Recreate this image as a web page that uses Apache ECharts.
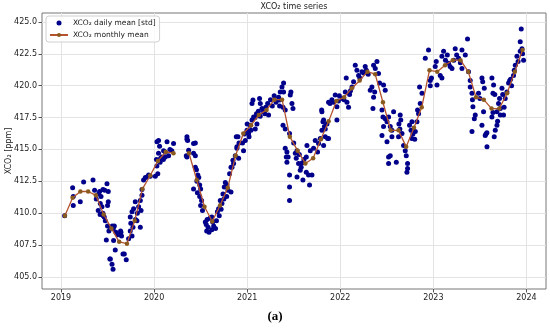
<!DOCTYPE html>
<html><head><meta charset="utf-8">
<script src="https://cdn.jsdelivr.net/npm/echarts@6/dist/echarts.min.js"></script>
<style>html,body{margin:0;padding:0;background:#fff}#c{width:550px;height:330px}</style>
</head><body><div id="c"></div>
<script>
const yearTicks = [2019, 2020, 2021, 2022, 2023, 2024];
const valueTicks = [405, 407.5, 410, 412.5, 415, 417.5, 420, 422.5, 425];
const monthlyYears = [2019, 2020, 2021, 2022, 2023];
const monthly2019 = [409.8,411.2,411.7,411.7,411.4,409.9,408.8,407.75,407.6,409.4,411.9,412.95];
const monthly2020 = [414.1,414.8,414.7,null,414.7,412.6,410.5,409.35,410.6,412.0,414.5,416.25];
const monthly2021 = [416.9,417.7,418.1,418.9,418.9,416.0,414.9,413.9,414.3,415.8,417.2,418.8];
const monthly2022 = [419.1,419.8,420.4,421.1,420.9,418.7,416.5,416.5,415.2,416.7,418.3,421.2];
const monthly2023 = [421.1,421.6,422.0,422.0,421.1,419.1,418.9,418.2,418.2,419.4,421.1,422.8];
const daily = [
[2019.039,409.8],[2019.125,412.0],[2019.132,411.3],[2019.132,410.6],[2019.207,410.9],[2019.243,412.45],[2019.344,412.6],[2019.361,411.8],[2019.379,411.1],[2019.404,411.5],[2019.422,410.75],[2019.440,410.5],[2019.451,411.85],[2019.494,412.3],[2019.508,411.7],[2019.508,410.9],[2019.500,410.6],[2019.454,409.8],[2019.465,409.7],[2019.476,409.4],[2019.487,407.9],[2019.551,409.0],[2019.562,408.8],[2019.573,409.0],[2019.530,406.4],[2019.525,406.4],[2019.548,406.0],[2019.559,405.6],[2019.583,407.1],[2019.565,407.86],[2019.644,408.5],[2019.650,408.2],[2019.666,406.8],[2019.680,406.8],[2019.701,406.35],[2019.726,408.0],
[2019.415,411.7],[2019.43,411.3],[2019.47,411.8],[2019.40,410.2],[2019.45,410.0],[2019.42,409.9],[2019.50,409.0],[2019.515,408.6],[2019.53,408.9],[2019.59,408.5],[2019.61,408.3],[2019.64,408.6],
[2019.744,409.7],[2019.763,410.1],[2019.780,410.35],[2019.798,410.9],[2019.773,408.9],[2019.744,408.6],[2019.763,408.2],[2019.816,409.4],[2019.852,408.9],[2019.834,410.5],[2019.852,411.0],[2019.870,411.4],[2019.870,411.85],[2019.887,412.6],[2019.906,412.8],[2019.924,412.84],[2019.941,413.0],[2019.959,412.9],[2019.80,409.5],[2019.82,410.0],[2019.86,410.2],[2019.75,409.2],
[2020.013,412.9],[2020.031,415.6],[2020.048,415.7],[2020.059,415.25],[2020.102,414.9],[2020.139,415.6],[2020.120,414.8],[2020.156,414.5],[2020.085,414.4],[2020.048,414.7],[2020.209,415.46],[2020.025,414.2],[2020.03,413.7],[2020.04,413.1],[2020.07,414.3],[2020.10,414.2],[2020.12,414.4],[2020.17,415.0],[2020.19,414.9],[2020.065,414.0],
[2020.353,416.0],[2020.360,415.7],[2020.424,415.46],[2020.371,414.94],[2020.443,414.5],[2020.346,414.5],[2020.353,415.8],[2020.443,415.5],[2020.424,414.7],[2020.353,414.4],[2020.443,413.6],
[2020.455,413.4],[2020.47,413.0],[2020.48,412.8],[2020.46,412.5],[2020.49,412.2],[2020.50,411.9],[2020.465,411.6],[2020.49,411.3],[2020.51,411.0],[2020.50,410.6],[2020.424,411.9],[2020.52,410.2],
[2020.55,409.3],[2020.56,409.1],[2020.565,408.6],[2020.58,408.9],[2020.60,409.6],[2020.62,409.7],[2020.64,409.0],[2020.62,408.7],[2020.66,408.8],[2020.59,408.5],[2020.63,409.3],[2020.57,409.5],
[2020.693,410.35],[2020.711,411.0],[2020.729,410.75],[2020.740,411.5],[2020.754,412.05],[2020.765,412.4],[2020.783,412.2],[2020.794,411.8],[2020.811,413.1],[2020.826,413.6],[2020.847,414.15],[2020.872,414.5],[2020.890,415.2],[2020.901,416.0],[2020.912,415.5],[2020.70,409.8],[2020.68,410.1],[2020.72,410.3],[2020.67,409.4],[2020.75,411.1],[2020.78,411.3],
[2020.883,416.0],[2020.890,415.1],[2020.908,414.3],[2020.854,413.9],[2020.837,413.6],[2020.826,411.65],[2020.961,414.9],[2020.980,415.7],[2020.998,416.5],[2021.015,416.25],[2021.033,416.9],[2021.052,417.3],[2021.041,416.5],[2021.069,417.55],[2021.087,416.6],[2021.105,417.0],[2021.052,418.6],[2021.062,418.87],[2021.133,419.0],[2021.141,418.6],[2021.159,418.2],[2021.176,417.95],[2021.19,417.8],[2021.12,418.0],[2021.14,417.6],[2021.10,417.8],[2021.085,417.5],[2020.95,415.5],[2020.97,416.2],[2021.00,417.0],[2021.02,416.0],
[2021.20,418.3],[2021.22,418.6],[2021.25,418.9],[2021.27,418.4],[2021.29,419.2],[2021.31,418.7],[2021.23,417.7],
[2021.337,419.1],[2021.348,418.87],[2021.348,418.4],[2021.355,419.5],[2021.374,419.9],[2021.391,420.2],[2021.385,418.3],[2021.409,418.1],[2021.391,419.5],[2021.463,419.26],[2021.470,419.5],[2021.481,418.6],[2021.492,418.2],
[2021.385,416.9],[2021.409,416.6],[2021.455,416.25],[2021.409,415.1],[2021.427,414.8],[2021.420,414.4],[2021.440,414.4],[2021.427,414.0],[2021.455,413.0],[2021.455,412.05],[2021.455,411.0],[2021.517,414.7],[2021.535,414.9],[2021.527,414.3],[2021.552,413.9],[2021.589,413.94],[2021.570,413.36],[2021.535,412.84],[2021.599,412.6],[2021.635,413.2],[2021.659,413.0],[2021.642,415.3],[2021.678,414.9],[2021.670,412.2],[2021.696,413.0],[2021.635,414.4],[2021.50,415.5],[2021.56,414.6],[2021.61,414.2],[2021.58,413.6],
[2021.713,415.1],[2021.731,415.7],[2021.756,414.8],[2021.767,415.46],[2021.785,415.86],[2021.803,416.5],[2021.814,417.16],[2021.803,417.95],[2021.839,416.6],[2021.857,417.0],[2021.864,415.86],[2021.874,418.7],[2021.80,418.1],[2021.821,417.3],[2021.83,416.8],[2021.839,416.0],[2021.821,415.3],[2021.874,415.86],
[2021.928,418.7],[2021.946,419.26],[2021.91,418.9],[2021.89,418.6],[2021.964,418.34],[2021.98,418.8],[2021.99,419.2],[2021.964,417.3],[2022.054,419.5],[2022.064,420.6],[2022.072,418.7],[2022.089,418.3],[2022.10,419.3],[2022.126,419.9],[2022.143,420.3],[2022.02,419.0],[2022.04,418.9],[2022.11,419.6],
[2022.161,421.6],[2022.179,421.2],[2022.197,420.8],[2022.21,420.6],[2022.233,421.1],[2022.25,421.0],[2022.268,421.5],[2022.28,421.2],[2022.358,421.6],[2022.376,421.35],[2022.394,421.9],[2022.411,420.96],[2022.340,419.9],[2022.322,419.65],[2022.358,419.1],[2022.351,418.2],[2022.30,420.9],[2022.37,419.5],
[2022.422,420.2],[2022.465,420.05],[2022.483,419.65],[2022.448,418.1],[2022.459,417.55],[2022.483,417.4],[2022.502,417.16],[2022.465,416.8],[2022.519,417.55],[2022.537,416.8],[2022.555,416.5],[2022.573,417.95],[2022.448,416.1],[2022.502,415.6],[2022.555,416.0],[2022.537,414.5],[2022.519,414.4],[2022.519,413.9],[2022.602,414.0],[2022.644,417.7],[2022.65,417.3],[2022.63,417.0],[2022.64,416.6],[2022.626,416.0],[2022.663,416.25],[2022.680,415.3],[2022.698,414.9],[2022.709,414.5],[2022.723,413.9],[2022.723,413.5],[2022.716,413.2],
[2022.744,416.9],[2022.76,416.5],[2022.78,416.2],[2022.80,415.8],[2022.824,417.16],[2022.841,417.8],[2022.852,419.9],[2022.770,417.16],[2022.781,416.5],[2022.770,415.86],[2022.806,416.4],[2022.830,418.1],[2022.859,418.6],[2022.878,419.4],
[2022.913,422.15],[2022.948,422.8],[2022.967,420.4],[2022.967,420.0],[2022.98,420.6],[2023.020,421.5],[2023.031,421.9],[2023.039,420.05],[2023.074,420.8],[2023.092,420.6],[2023.092,422.3],[2023.110,422.7],[2023.13,422.0],[2023.15,422.4],[2023.163,421.75],[2023.18,421.5],
[2023.200,421.35],[2023.22,422.0],[2023.235,422.9],[2023.25,422.4],[2023.271,422.15],[2023.29,421.8],[2023.307,421.35],[2023.307,422.8],[2023.343,422.4],[2023.367,423.66],[2023.378,421.1],[2023.396,420.4],[2023.396,419.9],[2023.415,419.4],[2023.42,418.9],
[2023.425,418.34],[2023.415,416.4],[2023.450,417.7],[2023.44,417.4],[2023.485,419.4],[2023.50,419.0],[2023.522,420.6],[2023.53,420.3],[2023.547,419.8],[2023.539,417.95],[2023.522,416.9],[2023.557,416.1],[2023.565,416.2],[2023.575,416.3],[2023.576,415.2],
[2023.629,420.6],[2023.647,420.05],[2023.640,419.4],[2023.66,419.3],[2023.629,417.55],[2023.64,417.9],[2023.665,416.5],[2023.683,416.9],[2023.69,417.2],[2023.700,418.6],[2023.711,419.0],[2023.737,419.8],[2023.719,418.2],[2023.719,417.7],[2023.654,416.0],[2023.683,417.95],
[2023.754,417.7],[2023.772,419.0],[2023.790,419.5],[2023.808,420.2],[2023.82,420.4],[2023.84,420.0],[2023.83,420.5],[2023.861,420.8],[2023.869,421.2],[2023.880,421.6],[2023.898,422.3],[2023.91,421.9],[2023.933,422.7],[2023.933,423.45],[2023.952,422.9],[2023.958,422.5],[2023.969,422.0],[2023.944,424.45],[2023.76,418.3],[2023.745,419.3]
];

const monthlyByYear = [monthly2019, monthly2020, monthly2021, monthly2022, monthly2023];
const monthly = [];
monthlyByYear.forEach((arr, i) => {
  arr.forEach((v, m) => monthly.push([monthlyYears[i] + (m + 0.5) / 12, v]));
});

const FONT = '"DejaVu Sans", sans-serif';
const chart = echarts.init(document.getElementById('c'), null, {renderer: 'canvas'});
chart.setOption({
  animation: false,
  backgroundColor: '#fff',
  grid: {left: 42, right: 4, top: 13, bottom: 41, containLabel: false, outerBoundsMode: 'none',
         show: true, borderColor: '#777', borderWidth: 1, backgroundColor: 'transparent'},
  xAxis: {
    type: 'value', min: 2018.796, max: 2024.21,
    axisLine: {show: false},
    axisTick: {show: true, length: 3.5, lineStyle: {color: '#555'}, customValues: yearTicks},
    axisLabel: {customValues: yearTicks, color: '#222', fontSize: 8, fontFamily: FONT, margin: 5, formatter: v => String(v)},
    splitLine: {show: true, lineStyle: {color: '#e3e3e3', width: 1}}
  },
  yAxis: {
    type: 'value', min: 404.05, max: 425.7,
    axisLine: {show: false},
    axisTick: {show: true, length: 3.5, lineStyle: {color: '#555'}, customValues: valueTicks},
    axisLabel: {customValues: valueTicks, color: '#222', fontSize: 8, fontFamily: FONT, margin: 5, formatter: v => v.toFixed(1)},
    splitLine: {show: true, lineStyle: {color: '#e3e3e3', width: 1}}
  },
  legend: {
    orient: 'vertical', left: 46, top: 16, padding: [3, 4, 3, 3], itemGap: 4,
    itemWidth: 18, itemHeight: 5,
    borderColor: '#d0d0d0', borderWidth: 1, borderRadius: 3, backgroundColor: 'rgba(255,255,255,0.8)',
    textStyle: {color: '#222', fontSize: 7.5, fontFamily: FONT},
    data: [{name: 'XCO\u2082 daily mean [std]', icon: 'circle'}, {name: 'XCO\u2082 monthly mean'}]
  },
  graphic: [
    {type: 'text', x: 294, y: 7, style: {text: 'XCO\u2082 time series', font: '8px ' + FONT, fill: '#222', align: 'center', verticalAlign: 'middle'}},
    {type: 'text', x: 9, y: 151, rotation: Math.PI / 2, style: {text: 'XCO\u2082 [ppm]', font: '8px ' + FONT, fill: '#222', align: 'center', verticalAlign: 'middle'}},
    {type: 'text', x: 275, y: 317, style: {text: '(a)', font: 'bold 13px "Liberation Serif", serif', fill: '#000', align: 'center', verticalAlign: 'middle'}}
  ],
  series: [
    {name: 'XCO\u2082 daily mean [std]', type: 'scatter', data: daily, symbolSize: 5, itemStyle: {color: '#00008b', opacity: 1}, z: 2},
    {name: 'XCO\u2082 monthly mean', type: 'line', data: monthly, connectNulls: false, symbol: 'circle', symbolSize: 4.5,
     lineStyle: {color: '#b5532e', width: 1.3}, itemStyle: {color: '#8b5a1e'}, z: 3}
  ]
});
</script></body></html>
